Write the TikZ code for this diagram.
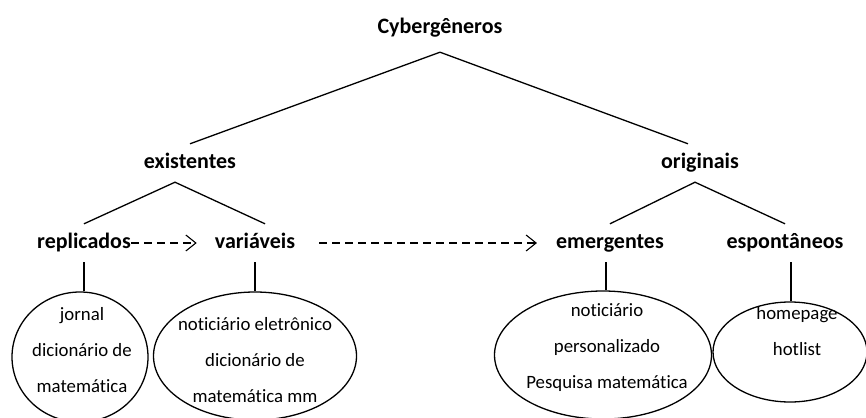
\documentclass[tikz,border=0pt]{standalone}
\usepackage{fontspec}
\setmainfont{Carlito}[RawFeature={-liga;-clig;-dlig;-calt}]
\usetikzlibrary{shapes.geometric,arrows.meta}

\tikzset{
  head/.style={font=\bfseries\fontsize{22}{26}\selectfont, inner xsep=0pt, inner ysep=9.5pt,
    text height=15pt, text depth=4pt},
  leaf/.style={font=\fontsize{18.8}{36}\selectfont, align=center, inner sep=0pt},
  blob/.style={draw, ellipse, inner sep=0pt, line width=1.3pt},
  link/.style={line width=1.3pt},
  goes/.style={line width=1.1pt, dash pattern=on 8pt off 5pt, -{Straight Barb[length=10pt,width=16pt]}}
}

\begin{document}
\begin{tikzpicture}[x=1pt,y=-1pt]
   \useasboundingbox (0,0) rectangle (866,417);
   \node[head] (cyber) at (440,28)  {Cybergêneros};
   \node[head] (exist) at (190,163) {existentes};
   \node[head] (orig)  at (700,163) {originais};
   \node[head] (repl)  at (84,243)  {replicados};
   \node[head] (vari)  at (255,243) {variáveis};
   \node[head] (emer)  at (610,243) {emergentes};
   \node[head] (espo)  at (785,243) {espontâneos};
   % the ellipses and what they hold
   \node[blob, minimum width=136pt, minimum height=130pt] (repl-box) at (80,357) {};
   \node[blob, minimum width=203pt, minimum height=128pt] (vari-box) at (255,356) {};
   \node[blob, minimum width=217pt, minimum height=128pt] (emer-box) at (603,355) {};
   \node[blob, minimum width=154pt, minimum height=100pt] (espo-box) at (790,352) {};
   \node[leaf] (repl-txt) at (82,350)  {jornal\\dicionário de\\matemática};
   \node[leaf] (vari-txt) at (255,360) {noticiário eletrônico\\dicionário de\\matemática mm};
   \node[leaf] (emer-txt) at (607,348) {noticiário\\personalizado\\Pesquisa matemática};
   \node[leaf] (espo-txt) at (797,331) {homepage\\hotlist};
   % tree
   \draw[link] (exist.north) -- ([yshift=-5pt]cyber.south) -- ([xshift=-12pt]orig.north);
   \draw[link] (repl.north) -- ([xshift=-15pt]exist.south) -- ([xshift=10pt]vari.north);
   \draw[link] (emer.north) -- ([xshift=-5pt]orig.south) -- (espo.north);
   \draw[link] (repl.south) -- (repl.south |- repl-box.north);
   \draw[link] (vari.south) -- (vari.south |- vari-box.north);
   \draw[link] ([xshift=-4pt]emer.south) -- ([xshift=-4pt]emer.south |- emer-box.north);
   \draw[link] ([xshift=6pt]espo.south) -- ([xshift=6pt]espo.south |- espo-box.north);
   \draw[goes, shorten >=18pt] (repl.east) -- (vari.west);
   \draw[goes, shorten <=24pt, shorten >=19pt] (vari.east) -- (emer.west);
\end{tikzpicture}
\end{document}
